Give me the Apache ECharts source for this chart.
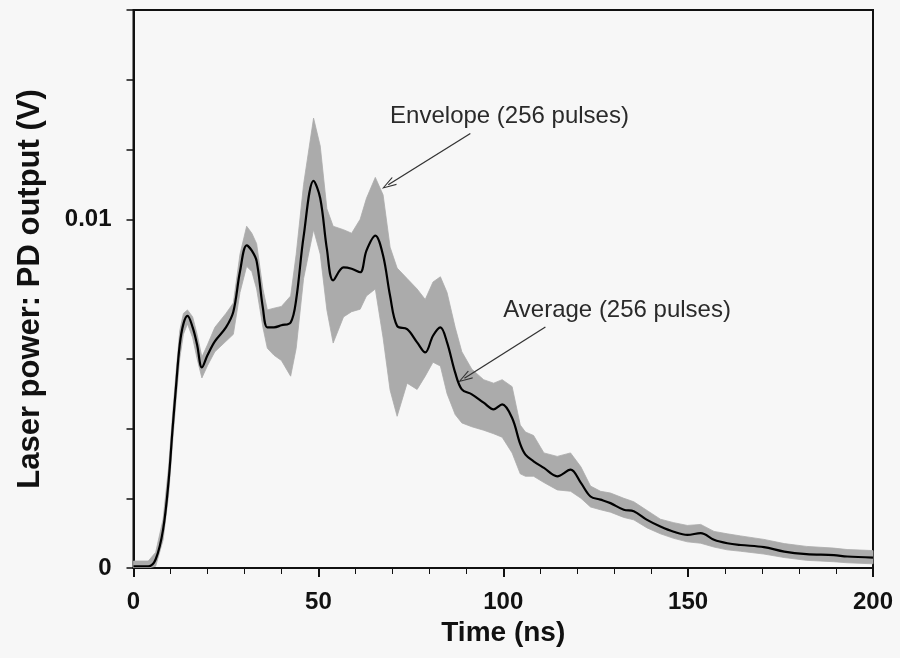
<!DOCTYPE html>
<html>
<head>
<meta charset="utf-8">
<script src="https://cdn.jsdelivr.net/npm/echarts@6/dist/echarts.min.js"></script>
<style>
  html, body { margin: 0; padding: 0; background: #f7f7f7; }
  #chart { width: 900px; height: 658px; }
</style>
</head>
<body>
<div id="chart"></div>
<script>
// Time axis (ns)
const times = [0,4,6,8,9.5,10.5,11.5,12.5,13.5,14.6,16,17.2,18.5,20,22,25,27,28.8,30.6,32,33.3,35,36.2,38,40,42.5,44,46,48.7,50.5,52.3,54,56.8,59,61.3,63,65.4,67.5,69.4,71.3,74,76.7,78.9,81,83,84.8,87,88.8,91.5,94.7,97.4,99.7,102.4,104.6,106,108.2,111,114.6,118.2,121,123.6,126.3,129,132.6,135.3,138.9,142.5,146.1,149.8,153.4,157,160.6,164.2,170.5,176,182,189.4,193,200];

// Average of 256 pulses (V)
const averageV = [0.00005,0.00005,0.00025,0.0011,0.0025,0.0039,0.0052,0.0064,0.0070,0.00723,0.0069,0.0064,0.00575,0.0061,0.0065,0.0069,0.00735,0.0085,0.00925,0.0091,0.0088,0.00745,0.0069,0.0069,0.00696,0.00704,0.0077,0.0095,0.0111,0.0106,0.00915,0.00825,0.00862,0.00858,0.00848,0.0091,0.00953,0.00896,0.0078,0.00694,0.00685,0.00647,0.00618,0.00666,0.0069,0.00647,0.0056,0.00512,0.00498,0.00474,0.00455,0.00469,0.0043,0.00355,0.00325,0.00306,0.00287,0.00263,0.00282,0.00244,0.00205,0.00196,0.00186,0.00167,0.00163,0.00138,0.00119,0.00104,0.00095,0.0010,0.00081,0.00071,0.00066,0.0006,0.00047,0.0004,0.00037,0.00033,0.0003];

// Envelope of 256 pulses: upper and lower bounds (V)
const envelopeUpperV = [0.0002,0.0002,0.00045,0.0014,0.0029,0.0043,0.0056,0.0068,0.0073,0.0074,0.0072,0.0067,0.00605,0.0064,0.0069,0.0073,0.0076,0.0090,0.0098,0.0096,0.0093,0.0080,0.0074,0.00745,0.0075,0.0078,0.0090,0.0110,0.0129,0.0121,0.0103,0.0098,0.0097,0.0096,0.0100,0.0106,0.0112,0.0107,0.0092,0.0086,0.0083,0.0080,0.0077,0.0082,0.00835,0.0079,0.0069,0.0062,0.0057,0.0054,0.0053,0.0054,0.0052,0.0041,0.0039,0.0038,0.0033,0.0032,0.0033,0.0029,0.00235,0.0022,0.00215,0.0020,0.0019,0.00165,0.0014,0.0013,0.00122,0.00125,0.00105,0.00098,0.00092,0.00082,0.0007,0.00062,0.00057,0.00053,0.0005];
const envelopeLowerV = [0,0,0.00005,0.0008,0.0021,0.0035,0.0048,0.0060,0.0067,0.0070,0.0066,0.0060,0.00545,0.0058,0.0062,0.0065,0.0067,0.0079,0.00865,0.0085,0.0080,0.0069,0.0063,0.0061,0.00595,0.0055,0.0063,0.0083,0.0097,0.0090,0.0074,0.00645,0.0072,0.00735,0.00742,0.0078,0.0080,0.0066,0.0051,0.00435,0.0053,0.00512,0.0055,0.0059,0.00579,0.0050,0.0044,0.00416,0.00405,0.00395,0.00385,0.00375,0.0033,0.0027,0.00263,0.00263,0.00245,0.00224,0.0022,0.0020,0.00175,0.00167,0.0016,0.00145,0.00138,0.00115,0.00098,0.00085,0.00075,0.00071,0.0006,0.00052,0.00048,0.0004,0.0003,0.00022,0.00018,0.00015,0.00012];

// Axis tick labels
const yTickLabels = { 0: '0', 0.01: '0.01' };
const xTitle = 'Time (ns)';
const yTitle = 'Laser power: PD output (V)';
const envelopeLabel = 'Envelope (256 pulses)';
const averageLabel = 'Average (256 pulses)';

// ---- build series data from the arrays ----
const envData = times.map((t, i) => [t, envelopeUpperV[i], envelopeLowerV[i]]);
const avgData = times.map((t, i) => [t, averageV[i]]);

const FONT = "'Liberation Sans', Arial, Helvetica, sans-serif";
const arrowHead = 'path://M5,0 L10,14 L9,14.6 L5,3.2 L1,14.6 L0,14 Z';

function renderEnvelope(params, api) {
  if (params.dataIndex !== 0) return null;
  const top = [], bottom = [];
  for (let i = 0; i < envData.length; i++) {
    top.push(api.coord([envData[i][0], envData[i][1]]));
    bottom.push(api.coord([envData[i][0], envData[i][2]]));
  }
  const pts = top.concat(bottom.reverse());
  return {
    type: 'polygon',
    shape: { points: pts },
    style: { fill: '#ababab', stroke: '#ababab', lineWidth: 0.8 }
  };
}

const chart = echarts.init(document.getElementById('chart'), null, { renderer: 'canvas' });
chart.setOption({
  animation: false,
  backgroundColor: '#f7f7f7',
  grid: {
    left: 133.5, right: 27, top: 10, bottom: 90,
    show: true, borderColor: '#111', borderWidth: 2, backgroundColor: 'transparent'
  },
  xAxis: {
    type: 'value', min: 0, max: 200, interval: 50,
    name: xTitle, nameLocation: 'middle', nameGap: 51,
    nameTextStyle: { fontFamily: FONT, fontWeight: 'bold', fontSize: 28, color: '#111' },
    axisLine: { show: true, onZero: false, lineStyle: { color: '#111', width: 2 } },
    axisTick: { show: true, inside: false, length: 9, lineStyle: { color: '#111', width: 2 } },
    minorTick: { show: true, splitNumber: 5, length: 6, lineStyle: { color: '#111', width: 1 } },
    axisLabel: { margin: 22, fontFamily: FONT, fontWeight: 'bold', fontSize: 24, color: '#111' },
    splitLine: { show: false }
  },
  yAxis: {
    type: 'value', min: 0, max: 0.016, interval: 0.002,
    name: yTitle, nameLocation: 'middle', nameGap: 88,
    nameTextStyle: { fontFamily: FONT, fontWeight: 'bold', fontSize: 31, color: '#111' },
    axisLine: { show: true, onZero: false, lineStyle: { color: '#111', width: 2 } },
    axisTick: { show: true, inside: false, length: 7, lineStyle: { color: '#111', width: 1.5 } },
    axisLabel: {
      margin: 22, fontFamily: FONT, fontWeight: 'bold', fontSize: 24, color: '#111',
      formatter: function (v) {
        for (const k in yTickLabels) { if (Math.abs(v - Number(k)) < 1e-9) return yTickLabels[k]; }
        return '';
      }
    },
    splitLine: { show: false }
  },
  series: [
    {
      name: 'envelope', type: 'custom', data: envData,
      encode: { x: 0, y: [1, 2] },
      renderItem: renderEnvelope, silent: true, z: 1, clip: true
    },
    {
      name: 'average', type: 'line', data: avgData,
      symbol: 'none', smooth: 0.35, lineStyle: { color: '#000', width: 2.2 }, z: 5,
      markLine: {
        silent: true, animation: false,
        symbol: ['none', arrowHead], symbolSize: [9, 15],
        label: { show: false },
        lineStyle: { color: '#333', width: 1.3, type: 'solid' },
        data: [
          [{ coord: [91.1, 0.01246] }, { coord: [68.9, 0.01099] }],
          [{ coord: [111.4, 0.00691] }, { coord: [89.5, 0.00544] }]
        ]
      },
      markPoint: {
        silent: true, symbol: 'circle', symbolSize: 0,
        label: {
          show: true, position: 'right', distance: 0,
          fontFamily: FONT, fontSize: 24, color: '#2a2a2a',
          formatter: function (p) { return p.name; }
        },
        data: [
          { name: envelopeLabel, coord: [69.4, 0.01295] },
          { name: averageLabel, coord: [100, 0.0074] }
        ]
      }
    }
  ]
});
</script>
</body>
</html>
